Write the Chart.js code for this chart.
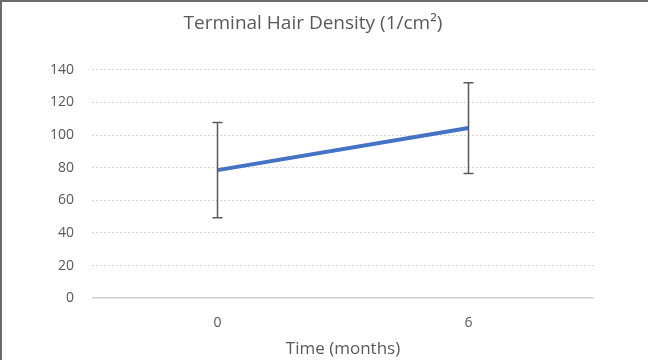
<!DOCTYPE html>
<html>
<head>
<meta charset="utf-8">
<script src="https://cdn.jsdelivr.net/npm/chart.js@4"></script>
<style>
  html, body { margin: 0; padding: 0; background: #fff; }
  #wrap { position: absolute; left: 0; top: 0; width: 646px; height: 358px; border-top: 2px solid #6b6b6b; border-left: 2px solid #6b6b6b; }
</style>
</head>
<body>
<div id="wrap"><canvas id="chart" width="646" height="358"></canvas></div>
<script>
const months = ['0', '6'];
const density = [78.5, 104.3];
const densityErr = [29.2, 27.8];
const yTicks = [0, 20, 40, 60, 80, 100, 120, 140];

const grey = '#595959';
const font = "'Open Sans', 'Noto Sans', sans-serif";

const errorBars = {
  id: 'errorBars',
  afterDatasetsDraw(chart) {
    const ctx = chart.ctx;
    const xs = chart.scales.x, ys = chart.scales.y;
    ctx.save();
    ctx.strokeStyle = '#5a5a5a';
    ctx.lineWidth = 1.5;
    density.forEach((v, i) => {
      const x = xs.getPixelForValue(i);
      const top = ys.getPixelForValue(v + densityErr[i]);
      const bot = ys.getPixelForValue(v - densityErr[i]);
      ctx.beginPath();
      ctx.moveTo(x, top); ctx.lineTo(x, bot);
      ctx.moveTo(x - 5, top); ctx.lineTo(x + 5, top);
      ctx.moveTo(x - 5, bot); ctx.lineTo(x + 5, bot);
      ctx.stroke();
    });
    ctx.restore();
  }
};

new Chart(document.getElementById('chart'), {
  type: 'line',
  data: {
    labels: months,
    datasets: [{
      data: density,
      borderColor: '#4472C4',
      borderWidth: 4,
      pointRadius: 0,
      fill: false
    }]
  },
  options: {
    responsive: false,
    animation: false,
    layout: { padding: { left: 30, right: 54, top: 4, bottom: 0 } },
    plugins: {
      legend: { display: false },
      tooltip: { enabled: false },
      title: {
        display: true,
        text: 'Terminal Hair Density (1/cm\u00B2)',
        color: grey,
        font: { family: font, size: 19, weight: 'normal' },
        padding: { top: 6, bottom: 35 }
      }
    },
    scales: {
      x: {
        type: 'category',
        offset: true,
        grid: { display: false, drawTicks: false },
        border: { display: false },
        ticks: { color: grey, font: { family: font, size: 14 }, padding: 16 },
        title: {
          display: true,
          text: 'Time (months)',
          color: grey,
          font: { family: font, size: 17, lineHeight: 1 },
          padding: { top: -6, bottom: 2 }
        }
      },
      y: {
        min: 0,
        max: 140,
        afterBuildTicks(axis) { axis.ticks = yTicks.map(v => ({ value: v })); },
        grid: {
          drawTicks: false,
          color: ctx => ctx.tick.value === 0 ? '#d0d0d0' : '#d6d6d6',
          lineWidth: ctx => ctx.tick.value === 0 ? 1.5 : 1
        },
        border: { display: false, dash: ctx => ctx.tick.value === 0 ? [] : [2, 2] },
        ticks: { color: grey, font: { family: font, size: 14 }, padding: 18 }
      }
    }
  },
  plugins: [errorBars]
});
</script>
</body>
</html>
